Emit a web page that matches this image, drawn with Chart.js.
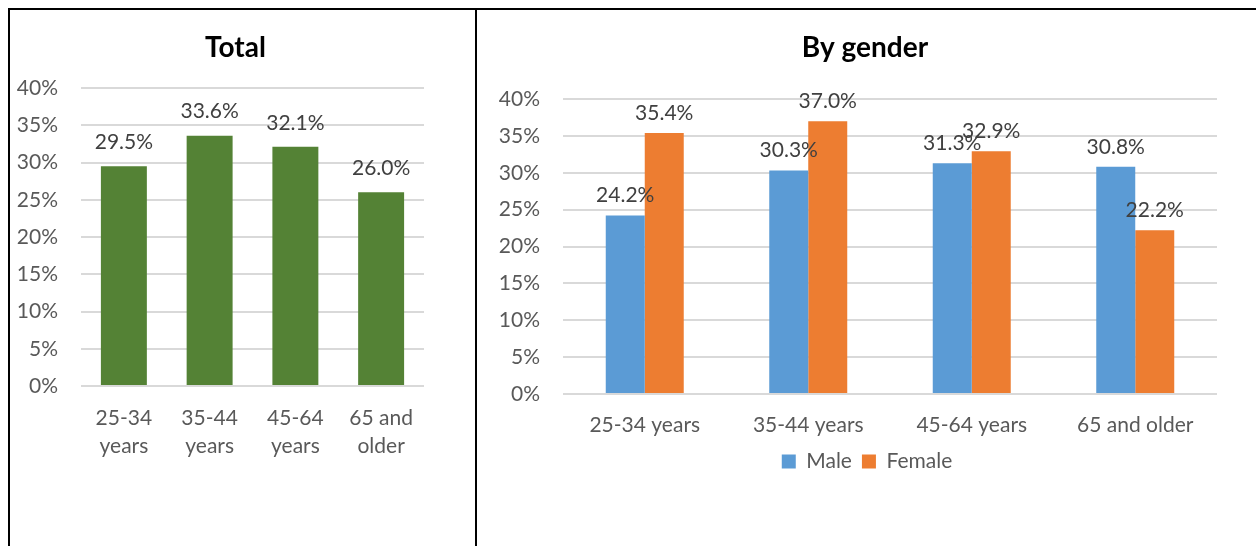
<!DOCTYPE html>
<html>
<head>
<meta charset="utf-8">
<script src="https://cdn.jsdelivr.net/npm/chart.js"></script>
<style>
    html, body { margin: 0; padding: 0; background: #fff; }
    body { width: 1256px; height: 546px; position: relative; overflow: hidden; }
    .frame { position: absolute; left: 8px; top: 8px; width: 1260px; height: 560px;
             border-top: 2px solid #000; border-left: 2px solid #000; }
    .divider { position: absolute; left: 475px; top: 8px; width: 2px; height: 560px; background: #000; }
    #totalBox { position: absolute; left: 10px; top: 10px; width: 465px; height: 536px; }
    #genderBox { position: absolute; left: 477px; top: 10px; width: 779px; height: 536px; }
</style>
</head>
<body>
<div class="frame"></div>
<div class="divider"></div>
<div id="totalBox"><canvas id="totalChart"></canvas></div>
<div id="genderBox"><canvas id="genderChart"></canvas></div>

<script>
// 데이터
const totalLabels = [['25-34', 'years'], ['35-44', 'years'], ['45-64', 'years'], ['65 and', 'older']];
const totalValues = [29.5, 33.6, 32.1, 26.0];

const genderLabels = ['25-34 years', '35-44 years', '45-64 years', '65 and older'];
const maleValues = [24.2, 30.3, 31.3, 30.8];
const femaleValues = [35.4, 37.0, 32.9, 22.2];

const yTicks = [0, 5, 10, 15, 20, 25, 30, 35, 40];

const FONT = 'Lato, "Open Sans", sans-serif';

// 막대 위에 값 표시하는 플러그인
const barLabels = {
    id: 'barLabels',
    afterDatasetsDraw(chart, args, opts) {
        const ctx = chart.ctx;
        ctx.save();
        ctx.font = '21px ' + FONT;
        ctx.fillStyle = '#404040';
        ctx.textAlign = 'center';
        ctx.textBaseline = 'middle';
        chart.data.datasets.forEach(function(ds, i) {
            chart.getDatasetMeta(i).data.forEach(function(bar, j) {
                ctx.fillText(ds.data[j].toFixed(1) + '%', bar.x, bar.y - opts.offset);
            });
        });
        ctx.restore();
    }
};

// 차트 제목 (엑셀처럼 캔버스 기준 위치에 그림)
const chartHeading = {
    id: 'chartHeading',
    afterDraw(chart, args, opts) {
        if (!opts.text) return;
        const ctx = chart.ctx;
        ctx.save();
        ctx.font = 'bold 28px ' + FONT;
        ctx.fillStyle = '#000';
        ctx.textAlign = 'center';
        ctx.textBaseline = 'middle';
        ctx.fillText(opts.text, chart.width * opts.x, opts.y);
        ctx.restore();
    }
};

// y축 라벨이 왼쪽 여백에서 잘리지 않도록 라벨 영역을 캔버스 왼쪽 끝까지 넓힘
const yLabelRoom = {
    id: 'yLabelRoom',
    afterLayout(chart) {
        if (chart.scales.y) chart.scales.y.left = 0;
    }
};

function yScale(axisWidth) {
    return {
        min: 0,
        max: 40,
        afterBuildTicks: function(scale) {
            scale.ticks = yTicks.map(v => ({ value: v }));
        },
        afterFit: function(scale) { scale.width = axisWidth; },
        border: { display: false },
        grid: { color: '#d9d9d9', lineWidth: 2, drawTicks: false },
        ticks: {
            padding: 23,
            color: '#595959',
            font: { family: FONT, size: 21 },
            callback: v => v + '%'
        }
    };
}

Chart.register(barLabels, chartHeading, yLabelRoom);

// 전체 차트
new Chart(document.getElementById('totalChart'), {
    type: 'bar',
    data: {
        labels: totalLabels,
        datasets: [{
            label: 'Total',
            data: totalValues,
            backgroundColor: '#548235',
            categoryPercentage: 0.536,
            barPercentage: 1
        }]
    },
    options: {
        responsive: true,
        maintainAspectRatio: false,
        animation: false,
        layout: { padding: { left: 0, right: 51, top: 78, bottom: 0 } },
        plugins: {
            legend: { display: false },
            tooltip: { enabled: false },
            chartHeading: { text: 'Total', x: 0.485, y: 38 },
            barLabels: { offset: 24 }
        },
        scales: {
            x: {
                afterFit: function(scale) { scale.height = 160; },
                border: { display: false },
                grid: { display: false, drawTicks: false },
                ticks: {
                    padding: 18,
                    maxRotation: 0,
                    color: '#595959',
                    font: { family: FONT, size: 21, lineHeight: 1.33 }
                }
            },
            y: yScale(71)
        }
    }
});

// 성별 차트
new Chart(document.getElementById('genderChart'), {
    type: 'bar',
    data: {
        labels: genderLabels,
        datasets: [{
            label: 'Male',
            data: maleValues,
            backgroundColor: '#5b9bd5',
            categoryPercentage: 0.477,
            barPercentage: 1
        }, {
            label: 'Female',
            data: femaleValues,
            backgroundColor: '#ed7d31',
            categoryPercentage: 0.477,
            barPercentage: 1
        }]
    },
    options: {
        responsive: true,
        maintainAspectRatio: false,
        animation: false,
        layout: { padding: { left: 40, right: 39, top: 89, bottom: 64 } },
        plugins: {
            legend: {
                position: 'bottom',
                labels: {
                    boxWidth: 14,
                    boxHeight: 14,
                    padding: 10,
                    color: '#595959',
                    font: { family: FONT, size: 21 }
                }
            },
            tooltip: { enabled: false },
            chartHeading: { text: 'By gender', x: 0.498, y: 38 },
            barLabels: { offset: 20 }
        },
        scales: {
            x: {
                afterFit: function(scale) { scale.height = 47; },
                border: { display: false },
                grid: { display: false, drawTicks: false },
                ticks: {
                    padding: 17,
                    maxRotation: 0,
                    color: '#595959',
                    font: { family: FONT, size: 21, lineHeight: 1.33 }
                }
            },
            y: yScale(46)
        }
    }
});
</script>
</body>
</html>
